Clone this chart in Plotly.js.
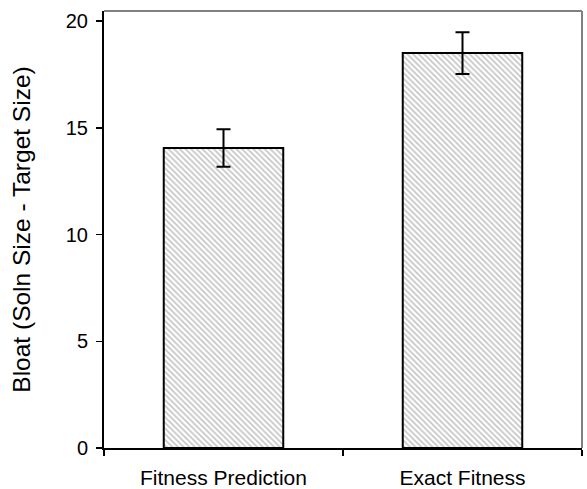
<!DOCTYPE html>
<html>
<head>
<meta charset="utf-8">
<script src="https://cdn.plot.ly/plotly-3.0.1.min.js"></script>
<style>html,body{margin:0;padding:0;background:#fff;}#chart{width:587px;height:489px;}</style>
</head>
<body>
<div id="chart"></div>
<script>
const categories = ["Fitness Prediction", "Exact Fitness"];
const bloatValues = [14.05, 18.5];
const bloatErrors = [0.88, 0.98];
const yTickValues = [0, 5, 10, 15, 20];
const yTitle = "Bloat (Soln Size - Target Size)";

const trace = {
  type: "bar",
  x: categories,
  y: bloatValues,
  width: 0.5,
  marker: {
    color: "#ffffff",
    line: {color: "#000000", width: 2},
    pattern: {shape: "\\", fgcolor: "#c4c4c4", bgcolor: "#ffffff", size: 4, solidity: 0.4}
  },
  error_y: {type: "data", array: bloatErrors, visible: true, color: "#000000", thickness: 2, width: 7},
  hoverinfo: "none"
};

const layout = {
  width: 587, height: 489,
  margin: {l: 104, r: 5, t: 11, b: 41},
  paper_bgcolor: "#ffffff", plot_bgcolor: "#ffffff",
  font: {family: "Liberation Sans, Arial, sans-serif", color: "#000000", size: 20},
  showlegend: false,
  bargap: 0.5,
  xaxis: {
    type: "category",
    showgrid: false, zeroline: false,
    showline: true, linecolor: "#000000", linewidth: 2,
    ticks: "outside", tickson: "boundaries", ticklen: 6, tickcolor: "#000000", tickwidth: 1.5,
    tickfont: {size: 21}, ticklabelstandoff: 10, range: [-0.5, 1.5], fixedrange: true
  },
  yaxis: {
    range: [0, 20.47],
    tickvals: yTickValues,
    showgrid: false, zeroline: false,
    showline: true, linecolor: "#000000", linewidth: 2,
    ticks: "outside", ticklen: 6, tickcolor: "#000000", tickwidth: 1.5,
    tickfont: {size: 20}, ticklabelstandoff: 4,
    title: {text: yTitle, font: {size: 24.5}, standoff: 28},
    fixedrange: true
  },
  shapes: [
    {type: "line", xref: "paper", yref: "paper", x0: 0, x1: 1, y0: 1, y1: 1, line: {color: "#808080", width: 2}},
    {type: "line", xref: "paper", yref: "paper", x0: 1, x1: 1, y0: 0, y1: 1, line: {color: "#808080", width: 2}}
  ]
};

Plotly.newPlot("chart", [trace], layout, {displayModeBar: false, staticPlot: true});
</script>
</body>
</html>
